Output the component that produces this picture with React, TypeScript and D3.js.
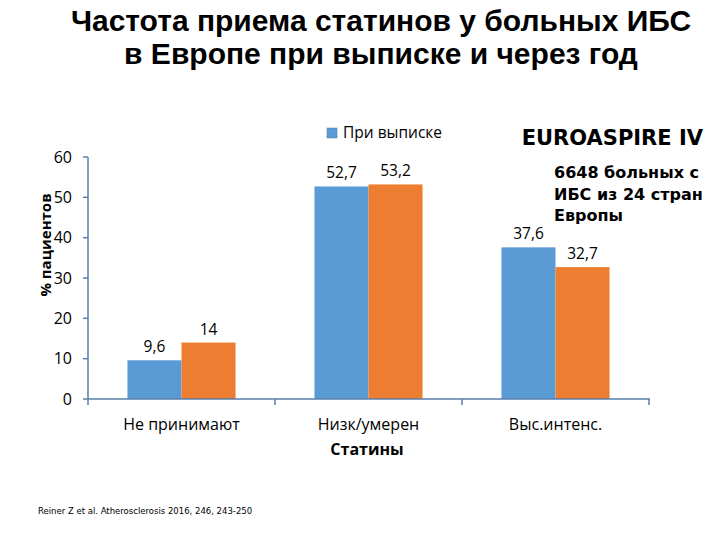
import React from "react";
import * as d3 from "d3";

const categories = ["Не принимают", "Низк/умерен", "Выс.интенс."];
const seriesNames = ["При выписке", "Через год"];
const atDischarge = [9.6, 52.7, 37.6];
const afterYear = [14, 53.2, 32.7];
const labelsDischarge = ["9,6", "52,7", "37,6"];
const labelsYear = ["14", "53,2", "32,7"];
const yTicks = [0, 10, 20, 30, 40, 50, 60];
const colors = ["#5B9BD5", "#ED7D31"];

const W = 720, H = 540;
const left = 88, right = 649, top = 157, bottom = 399;

export default function App() {
  const x = d3.scaleBand<string>().domain(categories).range([left, right]).paddingInner(0).paddingOuter(0);
  const y = d3.scaleLinear().domain([0, 60]).range([bottom, top]);
  const inner = d3.scaleBand<number>().domain([0, 1]).range([0, x.bandwidth()]).paddingOuter(0.73).paddingInner(0);
  const series = [atDischarge, afterYear];
  const labels = [labelsDischarge, labelsYear];
  const axisColor = "#5A7FAA";
  const font = "'Open Sans', 'Liberation Sans', sans-serif";
  return (
    <svg width={W} height={H} style={{ position: "absolute", left: 0, top: 0, background: "#fff" }}>
      <text x={381} y={31} textAnchor="middle" fontFamily="'Liberation Sans', Arial, sans-serif" fontWeight="bold" fontSize={30} fill="#000">
        Частота приема статинов у больных ИБС
      </text>
      <text x={381} y={64} textAnchor="middle" fontFamily="'Liberation Sans', Arial, sans-serif" fontWeight="bold" fontSize={30} fill="#000">
        в Европе при выписке и через год
      </text>

      {series.map((vals, si) =>
        categories.map((c, ci) => (
          <rect key={`${si}-${ci}`} x={(x(c) as number) + (inner(si) as number)} y={y(vals[ci])}
            width={inner.bandwidth()} height={y(0) - y(vals[ci])} fill={colors[si]} />
        ))
      )}
      {series.map((vals, si) =>
        categories.map((c, ci) => (
          <text key={`l${si}-${ci}`} x={(x(c) as number) + (inner(si) as number) + inner.bandwidth() / 2}
            y={y(vals[ci]) - 8} textAnchor="middle" fontFamily={font} fontSize={15.5} fill="#000">
            {labels[si][ci]}
          </text>
        ))
      )}

      <line x1={left} x2={left} y1={top} y2={bottom} stroke={axisColor} strokeWidth={1.5} />
      <line x1={left} x2={right + 1} y1={bottom} y2={bottom} stroke={axisColor} strokeWidth={1.5} />
      {yTicks.map(t => (
        <g key={t}>
          <line x1={left - 5} x2={left} y1={y(t)} y2={y(t)} stroke={axisColor} strokeWidth={1.5} />
          <text x={72} y={y(t) + 5.5} textAnchor="end" fontFamily={font} fontSize={16} fill="#000">{t}</text>
        </g>
      ))}
      {[...categories.map(c => x(c) as number), right].map((v, i) => (
        <line key={i} x1={v} x2={v} y1={bottom} y2={bottom + 6} stroke={axisColor} strokeWidth={1.5} />
      ))}
      {categories.map(c => (
        <text key={c} x={(x(c) as number) + x.bandwidth() / 2} y={430} textAnchor="middle" fontFamily={font} fontSize={16} fill="#000">{c}</text>
      ))}
      <text x={367} y={455} textAnchor="middle" fontFamily={font} fontWeight="bold" fontSize={16} fill="#000">Статины</text>
      <text transform="translate(51,245) rotate(-90)" textAnchor="middle" fontFamily={font} fontWeight="bold" fontSize={15} fill="#000">% пациентов</text>

      <rect x={327} y={128} width={10} height={10} fill={colors[0]} stroke="#4a7fb0" strokeWidth={0.5} />
      <text x={343} y={138} fontFamily={font} fontSize={15.5} fill="#000">{seriesNames[0]}</text>

      <text x={703} y={145} textAnchor="end" fontFamily="'DejaVu Sans', Verdana, sans-serif" fontWeight="bold" fontSize={21} fill="#000">EUROASPIRE IV</text>
      <text fontFamily="'DejaVu Sans', Verdana, sans-serif" fontWeight="bold" fontSize={16} fill="#000">
        <tspan x={554} y={178}>6648 больных с</tspan>
        <tspan x={554} y={200}>ИБС из 24 стран</tspan>
        <tspan x={554} y={221}>Европы</tspan>
      </text>

      <text x={38} y={514} fontFamily="'DejaVu Sans', Verdana, sans-serif" fontSize={8.5} fill="#000">Reiner Z et al. Atherosclerosis  2016, 246, 243-250</text>
    </svg>
  );
}
